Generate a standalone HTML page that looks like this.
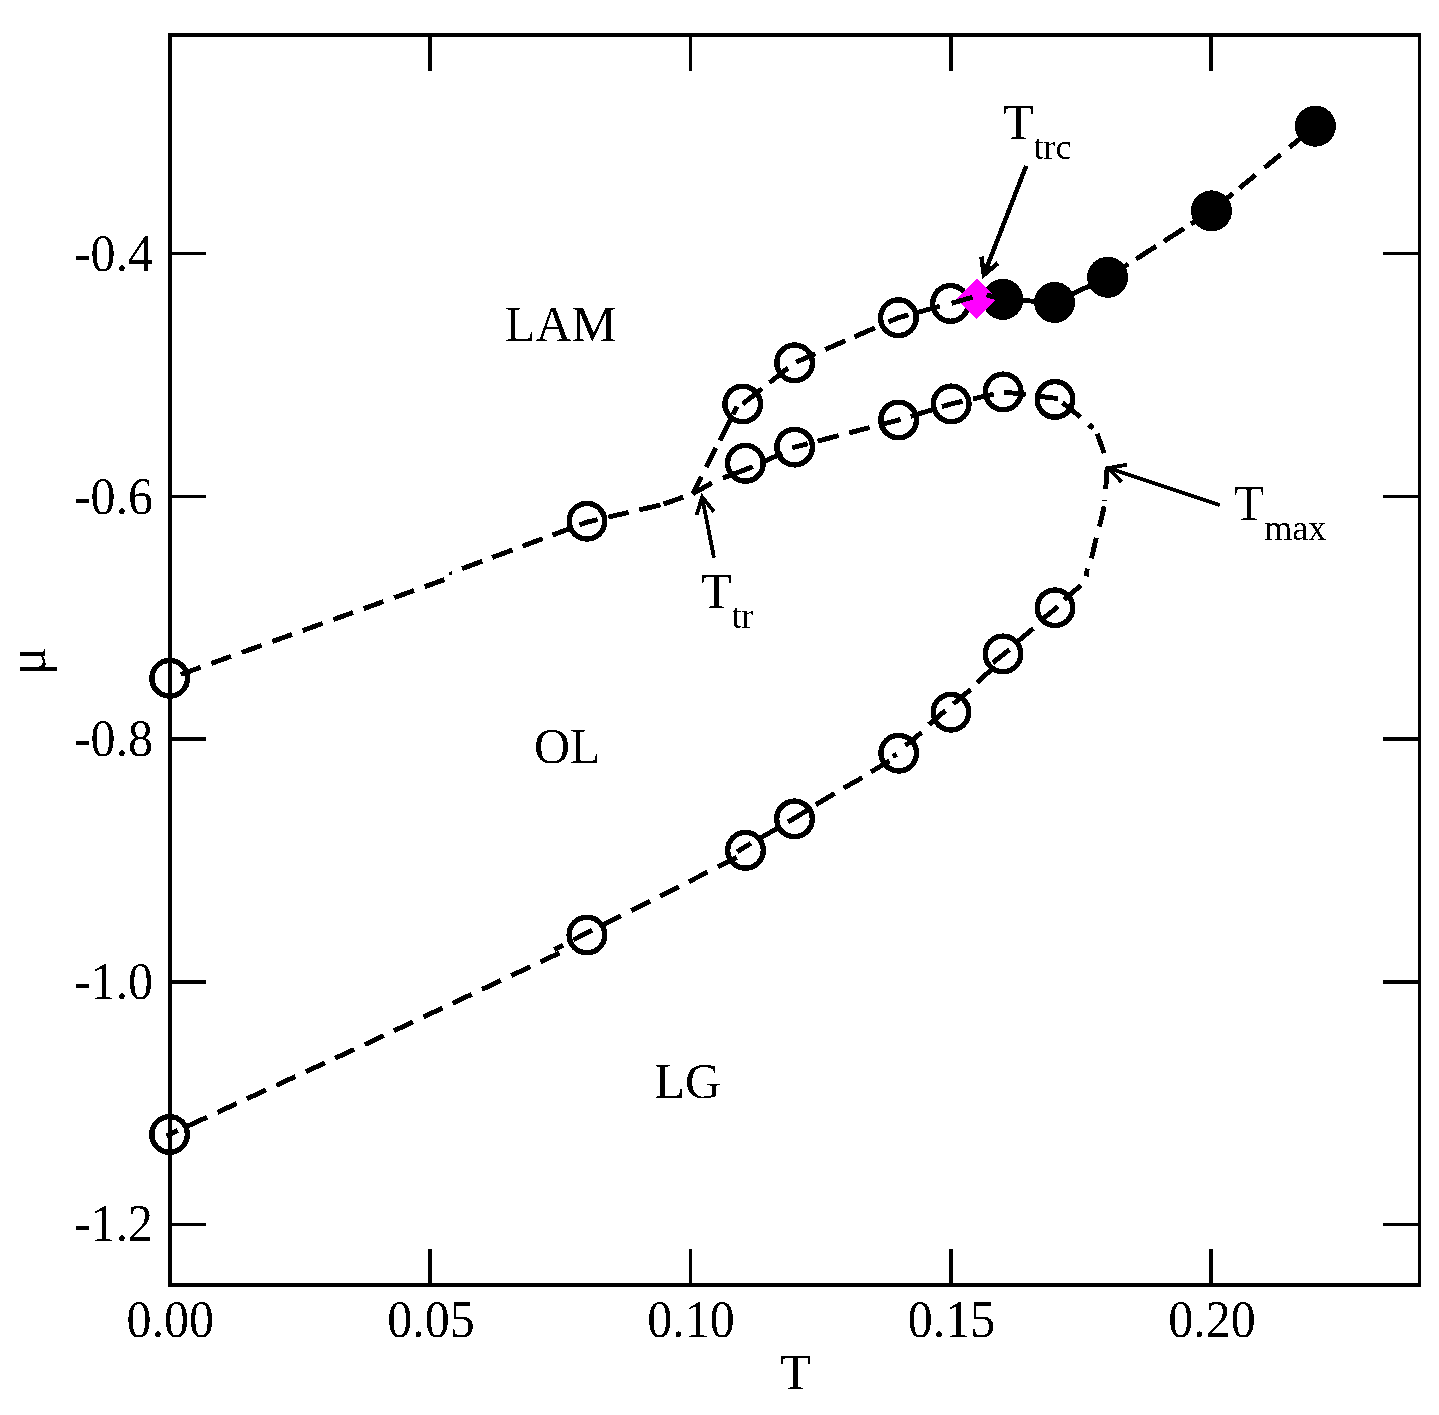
<!DOCTYPE html>
<html lang="en">
<head>
<meta charset="utf-8">
<title>Phase diagram</title>
<style>
html,body{margin:0;padding:0;background:#fff;}
body{width:1439px;height:1415px;overflow:hidden;}
svg{display:block;}
</style>
</head>
<body>
<svg width="1439" height="1415" viewBox="0 0 1439 1415">
<defs><filter id="bin" filterUnits="userSpaceOnUse" x="0" y="0" width="1439" height="1415" color-interpolation-filters="sRGB"><feComponentTransfer><feFuncA type="discrete" tableValues="0 1"/></feComponentTransfer></filter></defs>
<rect x="0" y="0" width="1439" height="1415" fill="#fff"/>
<g id="axes" fill="#000" shape-rendering="crispEdges">
<rect x="168" y="33" width="4" height="1254"/>
<rect x="1418" y="33" width="3" height="1254"/>
<rect x="168" y="33" width="1253" height="4"/>
<rect x="168" y="1283" width="1253" height="4"/>
<rect x="428" y="35" width="4" height="36"/>
<rect x="428" y="1249" width="4" height="36"/>
<rect x="689" y="35" width="3" height="36"/>
<rect x="689" y="1249" width="3" height="36"/>
<rect x="949" y="35" width="4" height="36"/>
<rect x="949" y="1249" width="4" height="36"/>
<rect x="1209" y="35" width="4" height="36"/>
<rect x="1209" y="1249" width="4" height="36"/>
<rect x="170" y="252" width="36" height="3"/>
<rect x="1383" y="252" width="36" height="3"/>
<rect x="170" y="495" width="36" height="3"/>
<rect x="1383" y="495" width="36" height="3"/>
<rect x="170" y="737" width="36" height="4"/>
<rect x="1383" y="737" width="36" height="4"/>
<rect x="170" y="980" width="36" height="4"/>
<rect x="1383" y="980" width="36" height="4"/>
<rect x="170" y="1223" width="36" height="3"/>
<rect x="1383" y="1223" width="36" height="3"/>
</g>
<g id="curves" fill="none" stroke="#000" stroke-linecap="butt" stroke-linejoin="miter" shape-rendering="crispEdges">
<line x1="444.5" y1="579.6" x2="170" y2="678.3" stroke-width="4.9" stroke-dasharray="21.0 11.4" stroke-dashoffset="0"/>
<polyline points="450.3,571.6 450.9,575.4" stroke-width="2.6"/>
<polyline points="462.0,568.7 482.3,561.2" stroke-width="4.9"/>
<polyline points="492.2,557.5 512.6,549.9" stroke-width="4.9"/>
<polyline points="522.5,546.2 542.7,538.7" stroke-width="4.9"/>
<polyline points="552.6,535.0 572.5,527.6" stroke-width="4.9"/>
<polyline points="579.4,525.0 587.5,522.0 597.7,519.6" stroke-width="4.9"/>
<polyline points="608.4,517.1 628.6,512.4" stroke-width="4.9"/>
<polyline points="639.3,509.9 660.4,505.0" stroke-width="4.9"/>
<polyline points="663.5,504.1 683.3,497.1" stroke-width="4.9"/>
<polyline points="692.8,493.8 701.5,476.6" stroke-width="4.9"/>
<polyline points="706.3,467.1 715.9,448.2" stroke-width="4.9"/>
<polyline points="719.8,440.5 730.5,419.3" stroke-width="4.9"/>
<polyline points="733.0,414.4 737.0,406.5" stroke-width="4.9"/>
<polyline points="742.8,403.9 762.0,388.7" stroke-width="4.9"/>
<polyline points="769.5,382.7 788.0,368.0" stroke-width="4.9"/>
<polyline points="796.0,362.2 815.4,353.8" stroke-width="4.9"/>
<polyline points="825.2,349.5 845.3,340.8" stroke-width="4.9"/>
<polyline points="854.4,336.8 875.0,327.9" stroke-width="4.9"/>
<polyline points="888.4,322.0 898.4,317.7 908.6,314.9" stroke-width="4.9"/>
<polyline points="917.6,312.4 939.8,306.3" stroke-width="4.9"/>
<polyline points="1002.8,299.4 1054.6,302.4 1107.6,277.3 1128.4,264.0" stroke-width="4.9"/>
<polyline points="1136.1,259.1 1156.2,246.2" stroke-width="4.9"/>
<polyline points="1163.9,241.3 1184.0,228.5" stroke-width="4.9"/>
<polyline points="1191.0,224.0 1211.5,210.9 1232.8,193.5" stroke-width="4.9"/>
<polyline points="1239.5,188.1 1255.6,174.9" stroke-width="4.9"/>
<polyline points="1264.5,167.7 1280.6,154.6" stroke-width="4.9"/>
<polyline points="1289.5,147.3 1315.0,126.5" stroke-width="4.9"/>
<polyline points="692.8,493.8 712.0,482.9" stroke-width="4.9"/>
<polyline points="722.9,478.1 752.9,466.7" stroke-width="4.9"/>
<polyline points="762.0,462.5 778.0,455.2 782.0,453.2" stroke-width="4.9"/>
<polyline points="792.2,448.2 792.5,448.1 794.6,447.1 807.8,443.7" stroke-width="4.9"/>
<polyline points="817.5,441.1 838.7,435.6" stroke-width="4.9"/>
<polyline points="849.1,432.9 869.6,427.6" stroke-width="4.9"/>
<polyline points="880.0,424.8 898.6,420.0 900.6,419.4" stroke-width="4.9"/>
<polyline points="910.5,416.4 934.0,409.2" stroke-width="4.9"/>
<polyline points="941.9,406.7 951.2,403.9 962.5,401.3" stroke-width="4.9"/>
<polyline points="973.1,398.8 993.8,394.1" stroke-width="4.9"/>
<polyline points="1004.0,392.0 1025.7,394.6" stroke-width="4.9"/>
<polyline points="1036.0,395.9 1055.0,398.2 1057.9,398.6" stroke-width="4.9"/>
<polyline points="1062.5,402.7 1080.4,417.1" stroke-width="4.9"/>
<polyline points="1088.9,424.5 1093.1,428.1" stroke-width="5.4"/>
<polyline points="1097.2,433.8 1104.2,453.2" stroke-width="4.9"/>
<polyline points="1107.1,468.5 1105.7,488.8" stroke-width="4.9"/>
<polyline points="1101.9,500.6 1106.9,500.6" stroke-width="1.6"/>
<polyline points="1104.2,506.4 1099.5,526.6" stroke-width="4.9"/>
<polyline points="1096.3,537.7 1091.5,558.4" stroke-width="4.9"/>
<polyline points="1087.3,568.5 1086.2,576.4" stroke-width="4.9"/>
<polyline points="1080.9,585.4 1064.0,599.6" stroke-width="4.9"/>
<polyline points="1057.9,606.7 1043.4,618.4" stroke-width="4.9"/>
<polyline points="1033.4,628.4 1016.7,642.3" stroke-width="4.9"/>
<polyline points="1009.5,649.5 992.8,662.8" stroke-width="4.9"/>
<polyline points="991.2,669.5 977.3,682.8" stroke-width="4.9"/>
<polyline points="970.6,689.5 953.5,703.8" stroke-width="4.9"/>
<polyline points="945.5,710.5 928.8,724.6" stroke-width="4.9"/>
<polyline points="921.5,732.4 905.5,745.6" stroke-width="4.9"/>
<polyline points="896.6,754.2 892.8,756.5" stroke-width="4.9"/>
<polyline points="889.5,760.9 870.8,772.0" stroke-width="4.9"/>
<polyline points="862.4,777.6 843.7,788.0" stroke-width="4.9"/>
<polyline points="834.6,793.5 815.9,804.7" stroke-width="4.9"/>
<polyline points="807.5,810.2 788.1,822.0" stroke-width="4.9"/>
<polyline points="779.0,827.4 758.0,839.4" stroke-width="4.9"/>
<polyline points="750.9,843.4 737.1,851.7" stroke-width="4.9"/>
<line x1="736.7" y1="857.5" x2="554.4" y2="949.4" stroke-width="4.9" stroke-dasharray="21.0 11.4" stroke-dashoffset="0"/>
<polyline points="560.5,952.5 365,1044.5 166.3,1135.9" stroke-width="4.9" stroke-dasharray="21.0 11.4" stroke-dashoffset="-1"/>
</g>
<g id="symbols" shape-rendering="crispEdges">
<circle cx="1002.8" cy="299.4" r="20.5" fill="#000"/>
<circle cx="1054.6" cy="302.4" r="20.5" fill="#000"/>
<circle cx="1107.6" cy="277.3" r="20.5" fill="#000"/>
<circle cx="1211.5" cy="210.9" r="20.5" fill="#000"/>
<circle cx="1315.4" cy="126.2" r="20.5" fill="#000"/>
<circle cx="169.7" cy="678.3" r="17.8" fill="none" stroke="#000" stroke-width="5.4"/>
<circle cx="587" cy="521.2" r="17.8" fill="none" stroke="#000" stroke-width="5.4"/>
<circle cx="742.7" cy="404" r="17.8" fill="none" stroke="#000" stroke-width="5.4"/>
<circle cx="794.6" cy="362.8" r="17.8" fill="none" stroke="#000" stroke-width="5.4"/>
<circle cx="898.4" cy="317.7" r="17.8" fill="none" stroke="#000" stroke-width="5.4"/>
<circle cx="950.5" cy="303.4" r="17.8" fill="none" stroke="#000" stroke-width="5.4"/>
<circle cx="745.4" cy="463.3" r="17.8" fill="none" stroke="#000" stroke-width="5.4"/>
<circle cx="794.6" cy="447.1" r="17.8" fill="none" stroke="#000" stroke-width="5.4"/>
<circle cx="898.6" cy="420" r="17.8" fill="none" stroke="#000" stroke-width="5.4"/>
<circle cx="951.2" cy="403.9" r="17.8" fill="none" stroke="#000" stroke-width="5.4"/>
<circle cx="1003.2" cy="391.9" r="17.8" fill="none" stroke="#000" stroke-width="5.4"/>
<circle cx="1055" cy="399.4" r="17.8" fill="none" stroke="#000" stroke-width="5.4"/>
<circle cx="1055" cy="607.8" r="17.8" fill="none" stroke="#000" stroke-width="5.4"/>
<circle cx="1003" cy="653.9" r="17.8" fill="none" stroke="#000" stroke-width="5.4"/>
<circle cx="951" cy="712.2" r="17.8" fill="none" stroke="#000" stroke-width="5.4"/>
<circle cx="898.7" cy="753.2" r="17.8" fill="none" stroke="#000" stroke-width="5.4"/>
<circle cx="794.5" cy="818.9" r="17.8" fill="none" stroke="#000" stroke-width="5.4"/>
<circle cx="745.5" cy="850.3" r="17.8" fill="none" stroke="#000" stroke-width="5.4"/>
<circle cx="586.9" cy="935" r="17.8" fill="none" stroke="#000" stroke-width="5.4"/>
<circle cx="169.6" cy="1134.4" r="17.8" fill="none" stroke="#000" stroke-width="5.4"/>
<polygon points="956.8,298.9 976.9,278.79999999999995 997.0,298.9 976.9,319.0" fill="#ff00ff"/>
<g fill="none" stroke="#000" stroke-width="4.9">
<polyline points="951.6,303.3 972.5,297.2" stroke-width="4.9"/>
<polyline points="986.5,294.9 1000.0,298.8" stroke-width="4.9"/>
</g>
</g>
<g fill="none" stroke="#000" stroke-width="3.8" shape-rendering="crispEdges">
<line x1="714" y1="557.8" x2="702.1" y2="497.0"/>
<polyline points="714.1,511.8 702.1,497.0 696.6,515.2" stroke-linejoin="miter" stroke-miterlimit="10"/>
</g>
<g fill="none" stroke="#000" stroke-width="4.5" shape-rendering="crispEdges">
<line x1="1026.2" y1="165.9" x2="983.9" y2="274.8"/>
<polyline points="981.4,256.6 983.9,274.8 998.0,263.1" stroke-linejoin="miter" stroke-miterlimit="10"/>
</g>
<g fill="none" stroke="#000" stroke-width="3.8" shape-rendering="crispEdges">
<line x1="1219.8" y1="505" x2="1108.2" y2="468.0"/>
<polyline points="1127.0,464.8 1108.2,468.0 1121.4,481.8" stroke-linejoin="miter" stroke-miterlimit="10"/>
</g>
<g id="labels" font-family="'Liberation Serif', 'DejaVu Serif', serif" font-size="50" fill="#000" filter="url(#bin)">
<text transform="translate(170.3,1336.9) scale(1,1.04)" text-anchor="middle">0.00</text>
<text transform="translate(431,1336.9) scale(1,1.04)" text-anchor="middle">0.05</text>
<text transform="translate(691,1336.9) scale(1,1.04)" text-anchor="middle">0.10</text>
<text transform="translate(951.6,1336.9) scale(1,1.04)" text-anchor="middle">0.15</text>
<text transform="translate(1212,1336.9) scale(1,1.04)" text-anchor="middle">0.20</text>
<text transform="translate(153,270.7) scale(1,1.04)" text-anchor="end">-0.4</text>
<text transform="translate(153,513.7) scale(1,1.04)" text-anchor="end">-0.6</text>
<text transform="translate(153,756.2) scale(1,1.04)" text-anchor="end">-0.8</text>
<text transform="translate(153,999.2) scale(1,1.04)" text-anchor="end">-1.0</text>
<text transform="translate(153,1241.2) scale(1,1.04)" text-anchor="end">-1.2</text>
<text x="795.5" y="1389" text-anchor="middle">T</text>
<text transform="translate(45,661.1) rotate(-90) scale(1.07,1.11)" text-anchor="middle">μ</text>
<text x="505" y="340.6" text-anchor="start">LAM</text>
<text x="534" y="763.2" text-anchor="start">OL</text>
<text x="654.5" y="1097.7" text-anchor="start">LG</text>
<text x="1003" y="138.9">T<tspan font-size="36" dy="20">trc</tspan></text>
<text x="1233.8" y="520">T<tspan font-size="36" dy="20">max</tspan></text>
<text x="701" y="608">T<tspan font-size="36" dy="20">tr</tspan></text>
</g>
</svg>
</body>
</html>
